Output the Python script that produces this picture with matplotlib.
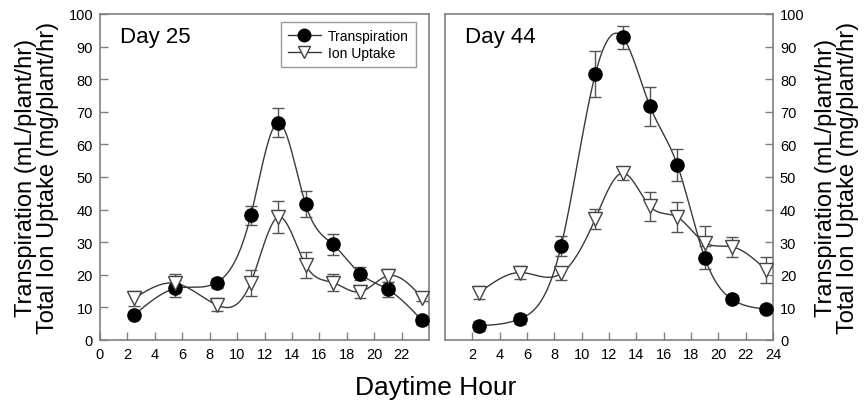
import numpy as np
import matplotlib
matplotlib.use('Agg')
import matplotlib.pyplot as plt
from matplotlib.lines import Line2D

plt.rcParams['font.family'] = ['Liberation Sans', 'DejaVu Sans']

# data
hours = [2.5, 5.5, 8.5, 11, 13, 15, 17, 19, 21, 23.5]

transp_d25 = [7.7, 15.8, 17.6, 38.2, 66.7, 41.6, 29.3, 20.3, 15.5, 6.0]
transp_d25_err = [1.0, 2.5, 1.5, 3.0, 4.5, 4.0, 3.3, 2.0, 2.2, 1.5]
ion_d25 = [12.8, 17.4, 10.8, 17.6, 37.7, 23.0, 17.6, 14.8, 19.7, 13.0]
ion_d25_err = [2.3, 2.7, 2.0, 4.0, 5.0, 4.0, 2.5, 2.0, 2.0, 1.0]

transp_d44 = [4.4, 6.5, 28.9, 81.6, 92.9, 71.7, 53.7, 25.3, 12.5, 9.5]
transp_d44_err = [1.5, 1.5, 3.0, 7.0, 3.5, 6.0, 5.0, 3.5, 1.2, 1.0]
ion_d44 = [14.5, 20.7, 20.4, 37.2, 51.2, 41.0, 37.7, 29.9, 28.6, 21.5]
ion_d44_err = [2.0, 2.0, 2.0, 3.0, 2.0, 4.5, 4.5, 5.0, 3.0, 4.0]

left_xticks = list(range(0, 23, 2))
right_xticks = list(range(2, 25, 2))
yticks = list(range(0, 101, 10))

GRAY = '#808080'
LINE = '#3a3a3a'


def natural_spline(x, y, n=400):
    """Natural cubic spline through the points (smooth curve like SigmaPlot)."""
    x = np.asarray(x, float)
    y = np.asarray(y, float)
    k = len(x)
    h = np.diff(x)
    A = np.zeros((k, k))
    b = np.zeros(k)
    A[0, 0] = A[-1, -1] = 1.0
    for i in range(1, k - 1):
        A[i, i - 1] = h[i - 1]
        A[i, i] = 2 * (h[i - 1] + h[i])
        A[i, i + 1] = h[i]
        b[i] = 6 * ((y[i + 1] - y[i]) / h[i] - (y[i] - y[i - 1]) / h[i - 1])
    M = np.linalg.solve(A, b)
    xs = np.linspace(x[0], x[-1], n)
    idx = np.clip(np.searchsorted(x, xs) - 1, 0, k - 2)
    x0, x1 = x[idx], x[idx + 1]
    hh = x1 - x0
    t0 = x1 - xs
    t1 = xs - x0
    ys = (M[idx] * t0 ** 3 + M[idx + 1] * t1 ** 3) / (6 * hh) \
        + (y[idx] / hh - M[idx] * hh / 6) * t0 \
        + (y[idx + 1] / hh - M[idx + 1] * hh / 6) * t1
    return xs, ys


def draw_series(ax, x, y, err, marker, face):
    xs, ys = natural_spline(x, y)
    ax.plot(xs, ys, color=LINE, lw=1.0, zorder=2)
    ax.errorbar(x, y, yerr=err, fmt='none', ecolor='#555555', elinewidth=1.0,
                capsize=4, capthick=1.0, zorder=3)
    ax.plot(x, y, linestyle='none', marker=marker, ms=9.5 if marker == 'o' else 10,
            mfc=face, mec='black' if marker == 'o' else '#444444', mew=1.0, zorder=4)


fig = plt.figure(figsize=(8.65, 4.10), dpi=100)
ax1 = fig.add_axes([100 / 865, 69 / 410, 329 / 865, 326 / 410])
ax2 = fig.add_axes([445 / 865, 69 / 410, 328 / 865, 326 / 410])

for ax in (ax1, ax2):
    ax.set_xlim(0, 24)
    ax.set_ylim(0, 100)
    ax.set_yticks(yticks)
    for s in ax.spines.values():
        s.set_color(GRAY)
        s.set_linewidth(1.2)
    ax.tick_params(direction='in', length=6, width=1.0, color=GRAY,
                   labelsize=10.5, pad=5)

ax1.set_xticks(left_xticks)
ax1.tick_params(axis='y', left=True, right=False, labelleft=True, labelright=False)
ax2.set_xticks(right_xticks)
ax2.tick_params(axis='y', left=False, right=True, labelleft=False, labelright=True)

draw_series(ax1, hours, transp_d25, transp_d25_err, 'o', 'black')
draw_series(ax1, hours, ion_d25, ion_d25_err, 'v', 'white')
draw_series(ax2, hours, transp_d44, transp_d44_err, 'o', 'black')
draw_series(ax2, hours, ion_d44, ion_d44_err, 'v', 'white')

ax1.text(0.06, 0.93, 'Day 25', transform=ax1.transAxes, fontsize=16, va='center', ha='left')
ax2.text(0.06, 0.93, 'Day 44', transform=ax2.transAxes, fontsize=16, va='center', ha='left')

handles = [
    Line2D([], [], color=LINE, lw=1.0, marker='o', ms=9, mfc='black', mec='black'),
    Line2D([], [], color=LINE, lw=1.0, marker='v', ms=9, mfc='white', mec='#444444'),
]
leg = ax1.legend(handles, ['Transpiration', 'Ion Uptake'], loc='upper right',
                 bbox_to_anchor=(0.96, 0.975), fontsize=10, frameon=True, fancybox=False,
                 handlelength=2.4, handletextpad=0.5, labelspacing=0.2,
                 borderpad=0.5, borderaxespad=0.0)
leg.get_frame().set_edgecolor(GRAY)
leg.get_frame().set_linewidth(1.0)

ylab = 'Transpiration (mL/plant/hr)\nTotal Ion Uptake (mg/plant/hr)'
fig.text(37 / 865, 1 - 178 / 410, ylab, rotation=90, ha='center', va='center',
         fontsize=17, linespacing=1.05)
fig.text(837 / 865, 1 - 178 / 410, ylab, rotation=90, ha='center', va='center',
         fontsize=17, linespacing=1.05)
fig.text(436 / 865, 1 - 388 / 410, 'Daytime Hour', ha='center', va='center', fontsize=19)

fig.savefig('out.png', dpi=100)
